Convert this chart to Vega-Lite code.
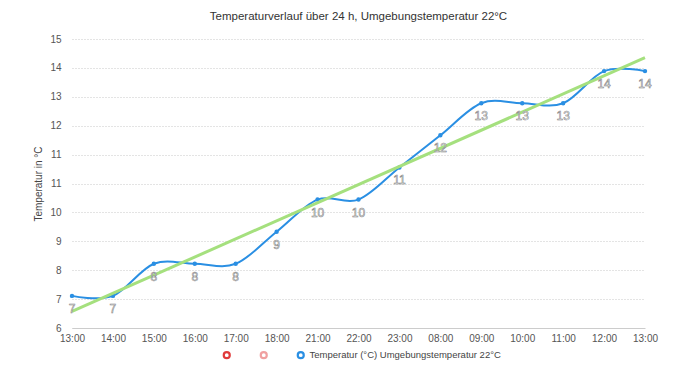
{
  "$schema": "https://vega.github.io/schema/vega-lite/v6.json",
  "autosize": "none",
  "width": 573,
  "height": 289,
  "padding": {"left": 72, "top": 39, "right": 55, "bottom": 57},
  "background": "white",
  "title": {"text": "Temperaturverlauf über 24 h, Umgebungstemperatur 22°C", "fontSize": 11.5, "fontWeight": "normal", "color": "#333333", "font": "Liberation Sans", "offset": 12, "anchor": "middle"},
  "config": {
    "view": {"stroke": null},
    "font": "Liberation Sans",
    "axis": {"labelFont": "Liberation Sans", "labelColor": "#555555", "labelFontSize": 10, "titleFont": "Liberation Sans", "titleFontWeight": "normal", "titleColor": "#444444", "titleFontSize": 10}
  },
  "data": {"values": [
    {"i": 0, "t": "13:00", "v": 7},
    {"i": 1, "t": "14:00", "v": 7},
    {"i": 2, "t": "15:00", "v": 8},
    {"i": 3, "t": "16:00", "v": 8},
    {"i": 4, "t": "17:00", "v": 8},
    {"i": 5, "t": "18:00", "v": 9},
    {"i": 6, "t": "21:00", "v": 10},
    {"i": 7, "t": "22:00", "v": 10},
    {"i": 8, "t": "23:00", "v": 11},
    {"i": 9, "t": "08:00", "v": 12},
    {"i": 10, "t": "09:00", "v": 13},
    {"i": 11, "t": "10:00", "v": 13},
    {"i": 12, "t": "11:00", "v": 13},
    {"i": 13, "t": "12:00", "v": 14},
    {"i": 14, "t": "13:00", "v": 14}
  ]},
  "encoding": {
    "x": {"field": "i", "type": "quantitative", "scale": {"domain": [0, 14], "nice": false, "zero": false},
      "axis": {"title": null, "values": [0,1,2,3,4,5,6,7,8,9,10,11,12,13,14], "grid": false, "ticks": false, "domainColor": "#cccccc", "labelPadding": 5, "labelOverlap": false, "labelFlush": false,
        "labelExpr": "['13:00','14:00','15:00','16:00','17:00','18:00','21:00','22:00','23:00','08:00','09:00','10:00','11:00','12:00','13:00'][datum.value]"}},
    "y": {"field": "v", "type": "quantitative", "scale": {"domain": [6, 15], "nice": false, "zero": false},
      "axis": {"title": "Temperatur in °C", "values": [6, 6.9, 7.8, 8.7, 9.6, 10.5, 11.4, 12.3, 13.2, 14.1, 15], "format": ".0f", "domain": false, "ticks": false, "labelPadding": 11, "titlePadding": 6, "grid": true, "gridColor": "#c8c8c8", "gridDash": [1, 2], "labelOverlap": false, "labelFlush": false}}
  },
  "layer": [
    {
      "mark": {"type": "line", "interpolate": "cardinal", "strokeWidth": 2, "point": {"filled": false, "size": 5, "strokeWidth": 2.2}},
      "encoding": {
        "color": {"datum": "Temperatur (°C) Umgebungstemperatur 22°C", "type": "nominal",
          "scale": {"domain": ["Serie A", "Serie B", "Temperatur (°C) Umgebungstemperatur 22°C"], "range": ["#e03a3a", "#f0a0a0", "#2a8fe3"]},
          "legend": {"title": null, "orient": "none", "legendX": 150, "legendY": 311, "direction": "horizontal", "symbolType": "circle", "symbolFillColor": "white", "symbolStrokeWidth": 2.2, "symbolSize": 36, "labelFontSize": 9.5, "labelColor": "#444444", "labelFont": "Liberation Sans", "columnPadding": 20, "labelOffset": 4, "labelLimit": 0,
            "labelExpr": "datum.value == 'Serie A' || datum.value == 'Serie B' ? '' : datum.label"}}
      }
    },
    {
      "transform": [{"regression": "v", "on": "i"}],
      "mark": {"type": "line", "color": "#a5e07e", "strokeWidth": 3},
      "encoding": {}
    },
    {
      "mark": {"type": "text", "dy": 13, "fontSize": 12, "fill": "#ffffff", "stroke": "#808080", "strokeWidth": 0.55, "font": "Liberation Sans"},
      "encoding": {"text": {"field": "v", "type": "quantitative"}}
    }
  ]
}
